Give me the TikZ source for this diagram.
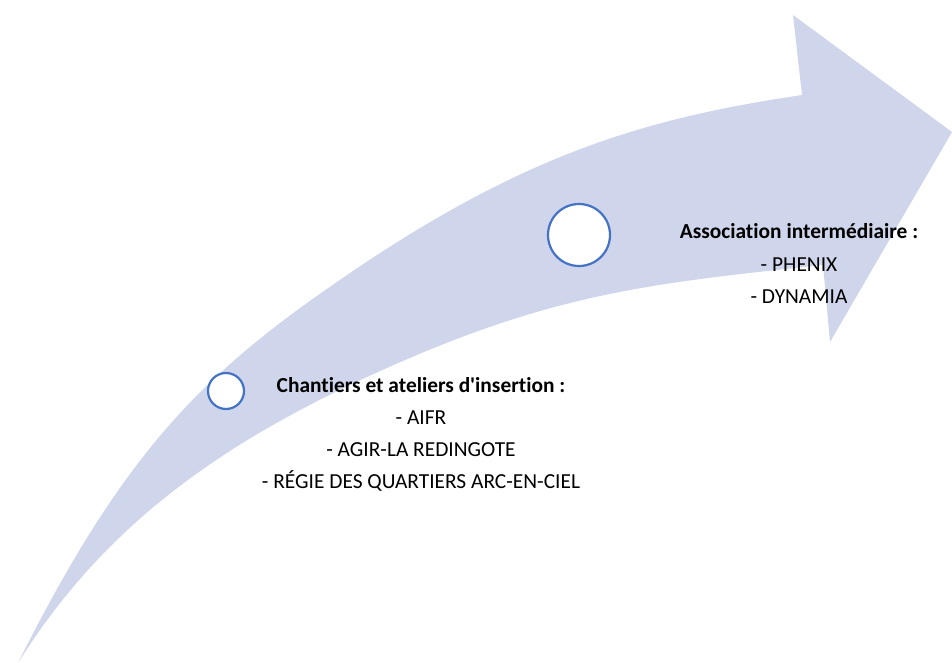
\documentclass[tikz,border=0pt]{standalone}
\usepackage{fontspec}
\setmainfont{Carlito}[Ligatures={TeXOff,NoCommon}]
\definecolor{bandfill}{RGB}{207,213,234}
\definecolor{ringblue}{RGB}{68,114,196}
\tikzset{
  band/.style={fill=bandfill, draw=none},
  ring/.style={circle, draw=ringblue, line width=2.2pt, fill=white, inner sep=0pt},
  lbl/.style={anchor=base, inner sep=0pt, font=\fontsize{21.4}{25}\selectfont},
  lblb/.style={lbl, font=\fontsize{21.4}{25}\selectfont\bfseries}
}
\begin{document}
\begin{tikzpicture}[x=1pt, y=-1pt]
\useasboundingbox (0,0) rectangle (952,663);
% curved arrow
\fill[band] (18,663)
  .. controls (128,443) and (210,368.2) .. (350,273)
  .. controls (530,150.6) and (652,117.5) .. (802,95)
  -- (793,15) -- (952,132) -- (830,342) -- (823,265)
  .. controls (643,284.1) and (547,294.2) .. (367,377)
  .. controls (207,450.6) and (98,535) .. (18,663)
  -- cycle;
% circles
\node[ring, minimum size=36pt] (c1) at (226,391) {};
\node[ring, minimum size=62pt] (c2) at (579,235) {};
% texts
\node[lblb] (a1) at (421,392) {Chantiers et ateliers d'insertion :};
\node[lbl]  (a2) at (421,424) {- AIFR};
\node[lbl]  (a3) at (421,456) {- AGIR-LA REDINGOTE};
\node[lbl]  (a4) at (421,488) {- RÉGIE DES QUARTIERS ARC-EN-CIEL};
\node[lblb] (b1) at (799,238) {Association intermédiaire :};
\node[lbl]  (b2) at (799,271) {- PHENIX};
\node[lbl]  (b3) at (799,303) {- DYNAMIA};
\end{tikzpicture}
\end{document}
